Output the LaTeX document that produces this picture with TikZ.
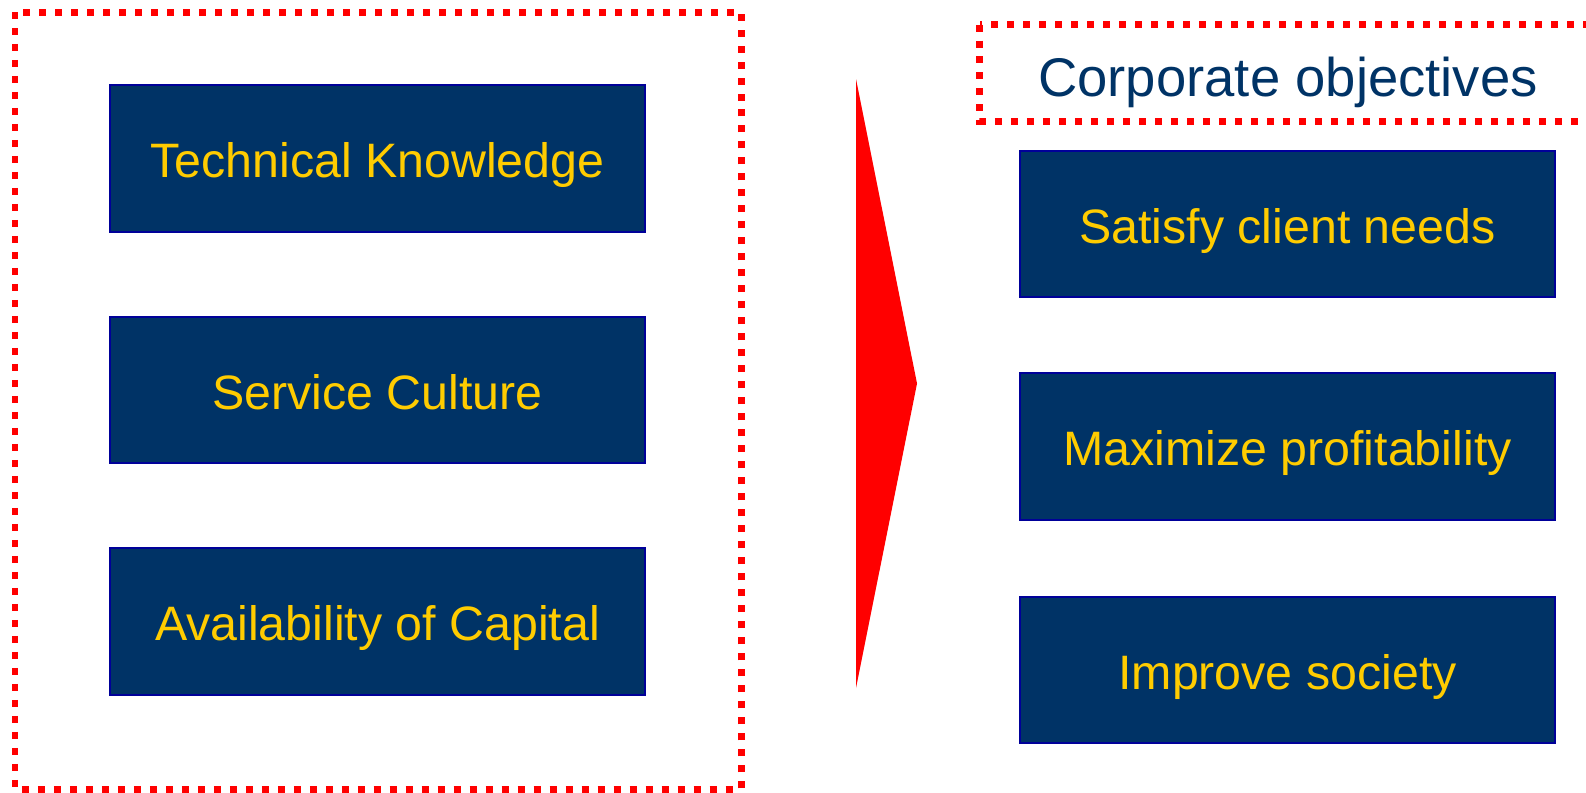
\documentclass[tikz,border=0pt]{standalone}
\usepackage{fontspec}
\setmainfont{Liberation Sans}

\definecolor{navy}{HTML}{003366}
\definecolor{gold}{HTML}{FFCC00}
\definecolor{edgeblue}{HTML}{000099}

\begin{document}
\begin{tikzpicture}[x = 0.02cm, y = -0.02cm,
	factor/.style = {draw=edgeblue, line width=0.04cm, fill=navy, text=gold,
		minimum width=10.7cm, minimum height=2.94cm, inner sep=0pt,
		font=\fontsize{27.5}{30}\selectfont, text height=24pt, text depth=2pt},
	dotframe/.style = {draw=red, line width=0.14cm, dash pattern=on 0.14cm off 0.18cm}]

	\useasboundingbox (0,0) rectangle (1586,792);

	% frames
	\draw[dotframe] (15,12) rectangle (741,789);
	\draw[dotframe] (979.5,24.5) rectangle (1620,121);

	% left column
	\node[factor] (tech) at (377.5,158.5) {Technical Knowledge};
	\node[factor] (culture) at (377.5,390) {Service Culture};
	\node[factor] (capital) at (377.5,621.5) {Availability of Capital};

	% right column
	\node[text=navy, inner sep=0pt, font=\fontsize{31}{34}\selectfont,
	text height=26pt, text depth=2pt] (title) at (1288,75) {Corporate objectives};
	\node[factor] (clients) at (1287.5,224) {Satisfy client needs};
	\node[factor] (profit) at (1287.5,446.5) {Maximize profitability};
	\node[factor] (society) at (1287.5,670) {Improve society};

	% arrow
	\coordinate (top) at (856,79);
	\coordinate (tip) at (917,383.5);
	\coordinate (bot) at (856,688);
	\fill[red] (top) -- (tip) -- (bot) -- cycle;

\end{tikzpicture}
\end{document}
